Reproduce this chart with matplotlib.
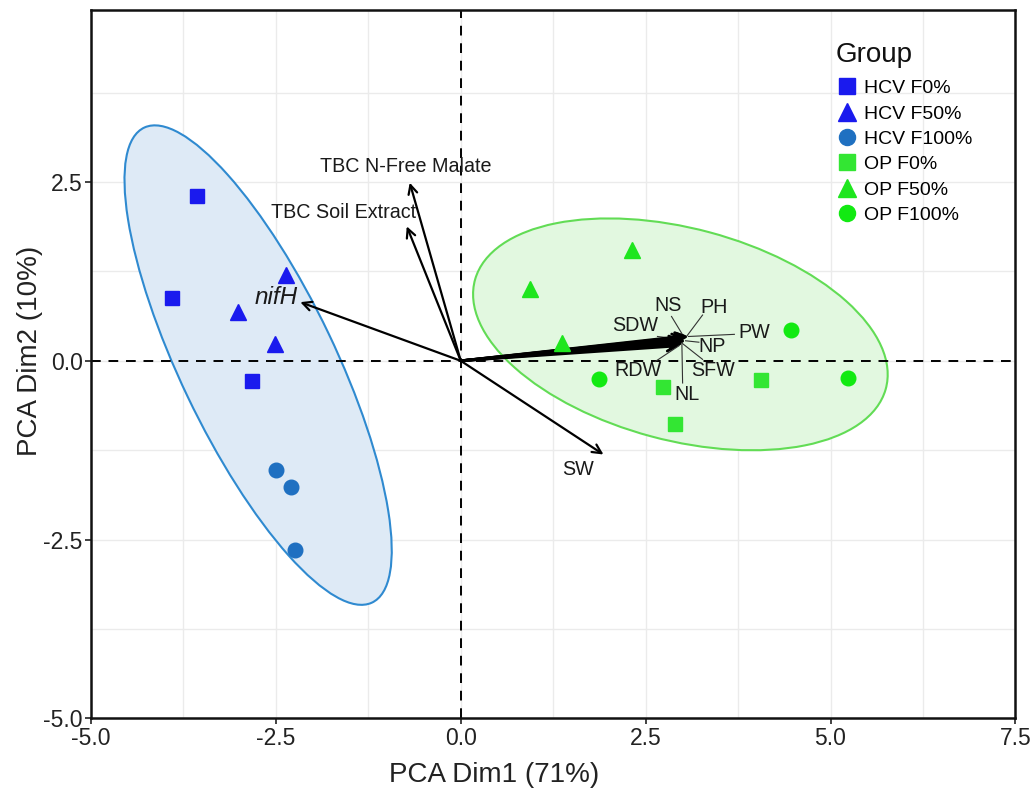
import numpy as np
import matplotlib
matplotlib.use('Agg')
import matplotlib.pyplot as plt
from matplotlib.patches import Ellipse
from matplotlib.ticker import MultipleLocator, FormatStrFormatter

plt.rcParams['font.family'] = ['Liberation Sans', 'DejaVu Sans']

# --- scores (individuals) ---
groups = ['HCV F0%', 'HCV F50%', 'HCV F100%', 'OP F0%', 'OP F50%', 'OP F100%']
dim1 = {
    'HCV F0%':   [-3.57, -3.90, -2.82],
    'HCV F50%':  [-2.36, -3.01, -2.51],
    'HCV F100%': [-2.50, -2.29, -2.24],
    'OP F0%':    [2.74, 2.90, 4.06],
    'OP F50%':   [0.94, 2.31, 1.37],
    'OP F100%':  [1.87, 4.47, 5.24],
}
dim2 = {
    'HCV F0%':   [2.30, 0.88, -0.28],
    'HCV F50%':  [1.20, 0.68, 0.24],
    'HCV F100%': [-1.52, -1.77, -2.64],
    'OP F0%':    [-0.36, -0.88, -0.27],
    'OP F50%':   [1.01, 1.55, 0.25],
    'OP F100%':  [-0.25, 0.43, -0.24],
}
markers = {'HCV F0%': 's', 'HCV F50%': '^', 'HCV F100%': 'o',
           'OP F0%': 's', 'OP F50%': '^', 'OP F100%': 'o'}
colors = {'HCV F0%': '#1a1aee', 'HCV F50%': '#1a1aee', 'HCV F100%': '#1f70c1',
          'OP F0%': '#33e633', 'OP F50%': '#1ee61e', 'OP F100%': '#12ea12'}

# --- variable loadings (arrows) ---
var_names = ['TBC N-Free Malate', 'TBC Soil Extract', 'nifH', 'SW',
             'SDW', 'NS', 'PH', 'PW', 'NP', 'SFW', 'RDW', 'NL']
load1 = [-0.69, -0.73, -2.17, 1.93, 2.98, 3.02, 3.06, 3.08, 3.04, 3.00, 2.95, 2.99]
load2 = [2.49, 1.88, 0.82, -1.31, 0.30, 0.33, 0.35, 0.34, 0.28, 0.24, 0.21, 0.25]

# label positions (layout) and leader segment ends
lab_pos = {
    'TBC N-Free Malate': (-0.74, 2.72), 'TBC Soil Extract': (-1.58, 2.07),
    'nifH': (-2.50, 0.88), 'SW': (1.59, -1.52),
    'SDW': (2.36, 0.50), 'NS': (2.81, 0.78), 'PH': (3.43, 0.74), 'PW': (3.97, 0.39),
    'NP': (3.40, 0.20), 'SFW': (3.41, -0.13), 'RDW': (2.39, -0.13), 'NL': (3.06, -0.47),
}
seg_end = {
    'SDW': (2.66, 0.34), 'NS': (2.85, 0.62), 'PH': (3.27, 0.64), 'PW': (3.70, 0.37),
    'NP': (3.22, 0.26), 'SFW': (3.27, 0.02), 'RDW': (2.63, -0.01), 'NL': (3.00, -0.31),
}

fig = plt.figure(figsize=(10.34, 7.93), dpi=100)
ax = fig.add_axes([0.088, 0.094, 0.894, 0.893])

# confidence ellipses
ax.add_patch(Ellipse((-2.74, -0.06), 2 * 3.66, 2 * 1.05, angle=-65.2,
                     facecolor='#deeaf6', edgecolor='#2f8ad0', lw=1.5, zorder=1))
ax.add_patch(Ellipse((2.97, 0.37), 2 * 2.88, 2 * 1.48, angle=-15.5,
                     facecolor='#e2f8e0', edgecolor='#62dc55', lw=1.5, zorder=1))

ax.axhline(0, color='black', ls=(0, (5, 4)), lw=1.4, zorder=2)
ax.axvline(0, color='black', ls=(0, (5, 4)), lw=1.4, zorder=2)

for g in groups:
    ms = 11.5 if markers[g] == '^' else 10.5
    ax.plot(dim1[g], dim2[g], ls='none', marker=markers[g], ms=ms,
            color=colors[g], mec=colors[g], label=g, zorder=4)

for name, x, y in zip(var_names, load1, load2):
    lw = 2.0 if name in seg_end else 1.6
    ax.annotate('', xy=(x, y), xytext=(0, 0),
                arrowprops=dict(arrowstyle='->', color='black', lw=lw,
                                mutation_scale=16, shrinkA=0, shrinkB=0), zorder=3)
    if name in seg_end:
        ex, ey = seg_end[name]
        ax.plot([x, ex], [y, ey], color='#333333', lw=0.8, zorder=3)
    lx, ly = lab_pos[name]
    style = 'italic' if name == 'nifH' else 'normal'
    fs = 17.5 if name == 'nifH' else 14.2
    ax.text(lx, ly, name, ha='center', va='center', fontsize=fs,
            style=style, color='#1a1a1a', zorder=5)

ax.set_xlim(-5, 7.5)
ax.set_ylim(-5, 4.9)
ax.xaxis.set_major_locator(MultipleLocator(2.5))
ax.yaxis.set_major_locator(MultipleLocator(2.5))
ax.xaxis.set_minor_locator(MultipleLocator(1.25))
ax.yaxis.set_minor_locator(MultipleLocator(1.25))
ax.grid(which='both', color='#ebebeb', lw=1.0, zorder=0)
ax.set_axisbelow(True)
ax.tick_params(which='minor', length=0)
ax.tick_params(which='major', length=4, width=1.2, labelsize=16.5, colors='#222222', pad=2)
ax.xaxis.set_major_formatter(FormatStrFormatter('%.1f'))
ax.yaxis.set_major_formatter(FormatStrFormatter('%.1f'))
for s in ax.spines.values():
    s.set_linewidth(1.8)
    s.set_color('#111111')

ax.set_xlabel('PCA Dim1 (71%)', fontsize=20, color='#222222')
ax.set_ylabel('PCA Dim2 (10%)', fontsize=20, color='#222222')
ax.xaxis.set_label_coords(0.436, -0.061)
ax.yaxis.set_label_coords(-0.052, 0.519)

ax.text(0.806, 0.937, 'Group', transform=ax.transAxes, fontsize=20,
        ha='left', va='center', color='#111111')
leg = ax.legend(loc='upper left', bbox_to_anchor=(0.797, 0.916),
                frameon=False, fontsize=14, borderpad=0, handletextpad=0.34,
                handlelength=1.0, labelspacing=0.40, markerscale=1.1)

fig.savefig('out.png', dpi=100)
